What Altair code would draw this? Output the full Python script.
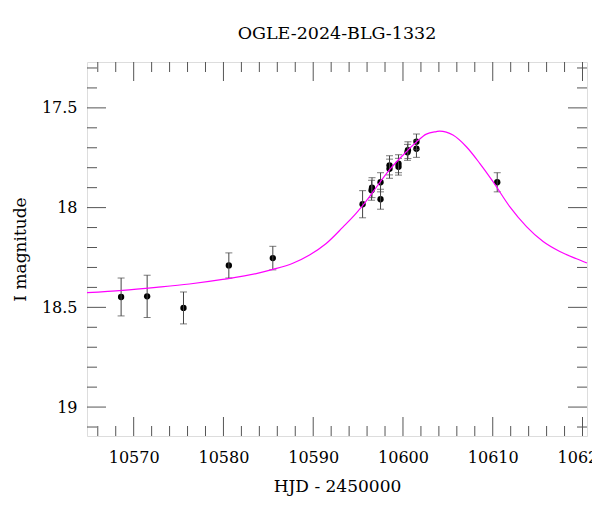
import altair as alt
import pandas as pd

# Photometric data (HJD - 2450000, I magnitude, error)
hjd = [10568.6, 10571.5, 10575.55, 10580.6, 10585.5, 10595.5, 10596.5, 10596.55,
       10597.5, 10597.5, 10598.5, 10598.5, 10599.5, 10599.5, 10600.5, 10600.55,
       10601.5, 10601.5, 10610.5]
mag = [18.448, 18.445, 18.503, 18.29, 18.253, 17.983, 17.913, 17.900,
       17.873, 17.958, 17.788, 17.805, 17.78, 17.795, 17.723, 17.712,
       17.67, 17.705, 17.873]
err = [0.095, 0.106, 0.08, 0.063, 0.059, 0.068, 0.05, 0.05,
       0.048, 0.05, 0.048, 0.048, 0.045, 0.042, 0.04, 0.042,
       0.039, 0.043, 0.048]

# Model curve
model_t = [10564.8, 10568.77, 10572.5, 10576.21, 10579.92, 10583.65, 10585.5, 10587.73,
           10589.59, 10591.45, 10593.31, 10594.8, 10596.28, 10596.65, 10598.51, 10600.37,
           10601.52, 10602.6, 10603.72, 10604.09, 10605.57, 10607.06, 10608.55, 10610.03,
           10611.89, 10613.76, 10615.61, 10617.47, 10619.33, 10620.5]
model_m = [18.4265, 18.415, 18.40, 18.383, 18.36, 18.331, 18.31, 18.279,
           18.2375, 18.18, 18.098, 18.028, 17.945, 17.922, 17.81, 17.72,
           17.67, 17.6315, 17.619, 17.6165, 17.6365, 17.695, 17.778, 17.87,
           17.995, 18.095, 18.17, 18.22, 18.2565, 18.278]

x_major = [10570, 10580, 10590, 10600, 10610, 10620]
x_minor = [10566, 10568, 10572, 10574, 10576, 10578, 10582, 10584, 10586, 10588,
           10592, 10594, 10596, 10598, 10602, 10604, 10606, 10608, 10612, 10614,
           10616, 10618]
y_major = [17.5, 18, 18.5, 19]
y_minor = [17.3, 17.4, 17.6, 17.7, 17.8, 17.9, 18.1, 18.2, 18.3, 18.4,
           18.6, 18.7, 18.8, 18.9, 19.1]

W, H = 500, 374
FONT = "DejaVu Serif"
TICK_COLOR = "#555555"
BAR_COLOR = "#444444"
MAJ, MIN = 19, 10

pts = pd.DataFrame({"hjd": hjd, "mag": mag, "err": err})
pts["lo"] = pts["mag"] - pts["err"]
pts["hi"] = pts["mag"] + pts["err"]
model = pd.DataFrame({"t": model_t, "m": model_m})

xs = alt.Scale(domain=[10564.8, 10620.5], nice=False, zero=False)
ys = alt.Scale(domain=[17.27, 19.145], reverse=True, nice=False, zero=False)

x_axis = alt.Axis(values=x_major, ticks=False, domain=False, grid=False,
                  labelExpr="datum.value", labelFont=FONT, labelFontSize=16,
                  labelColor="black", labelPadding=13, labelFlush=False,
                  labelOverlap=False, title="HJD - 2450000", titleFont=FONT,
                  titleFontSize=17, titleFontWeight="normal", titleColor="black",
                  titlePadding=13)
y_axis = alt.Axis(values=y_major, ticks=False, domain=False, grid=False,
                  labelExpr="datum.value", labelFont=FONT, labelFontSize=16,
                  labelColor="black", labelPadding=10, labelFlush=False,
                  labelOverlap=False, title="I magnitude", titleFont=FONT,
                  titleFontSize=17, titleFontWeight="normal", titleColor="black",
                  titlePadding=12)


def X(field):
    return alt.X(field, type="quantitative", scale=xs, axis=x_axis)


def Y(field):
    return alt.Y(field, type="quantitative", scale=ys, axis=y_axis)


base_pts = alt.Chart(pts)

errbars = base_pts.mark_errorbar(ticks=True, size=7, thickness=1, color=BAR_COLOR).encode(
    x=X("hjd"), y=Y("lo"), y2="hi",
)

points = base_pts.mark_circle(size=40, color="black", opacity=1).encode(
    x=X("hjd"), y=Y("mag"),
)

curve = alt.Chart(model).mark_line(color="#FF00FF", strokeWidth=1.2,
                                   interpolate="monotone").encode(
    x=X("t"), y=Y("m"),
)


def xticks(vals, length):
    d = pd.DataFrame({"v": vals})
    bottom = alt.Chart(d).mark_rule(color=TICK_COLOR, strokeWidth=1).encode(
        x=X("v"), y=alt.value(H), y2=alt.value(H - length))
    top = alt.Chart(d).mark_rule(color=TICK_COLOR, strokeWidth=1).encode(
        x=X("v"), y=alt.value(0), y2=alt.value(length))
    return [bottom, top]


def yticks(vals, length):
    d = pd.DataFrame({"v": vals})
    left = alt.Chart(d).mark_rule(color=TICK_COLOR, strokeWidth=1).encode(
        y=Y("v"), x=alt.value(0), x2=alt.value(length))
    right = alt.Chart(d).mark_rule(color=TICK_COLOR, strokeWidth=1).encode(
        y=Y("v"), x=alt.value(W), x2=alt.value(W - length))
    return [left, right]


tick_layers = xticks(x_major, MAJ) + xticks(x_minor, MIN) + yticks(y_major, MAJ) + yticks(y_minor, MIN)

chart = alt.layer(points, errbars, *tick_layers, curve).properties(
    width=W, height=H,
    title=alt.TitleParams("OGLE-2024-BLG-1332", font=FONT, fontSize=17.5,
                          fontWeight="normal", color="black", anchor="middle",
                          baseline="alphabetic", offset=5),
    autosize=alt.AutoSizeParams(type="none"),
    padding={"left": 79, "top": 54, "right": 5, "bottom": 66},
).configure_view(stroke="black", strokeWidth=1).configure(background="white")

chart.save("out.html", embed_options={"renderer": "svg", "actions": False})
